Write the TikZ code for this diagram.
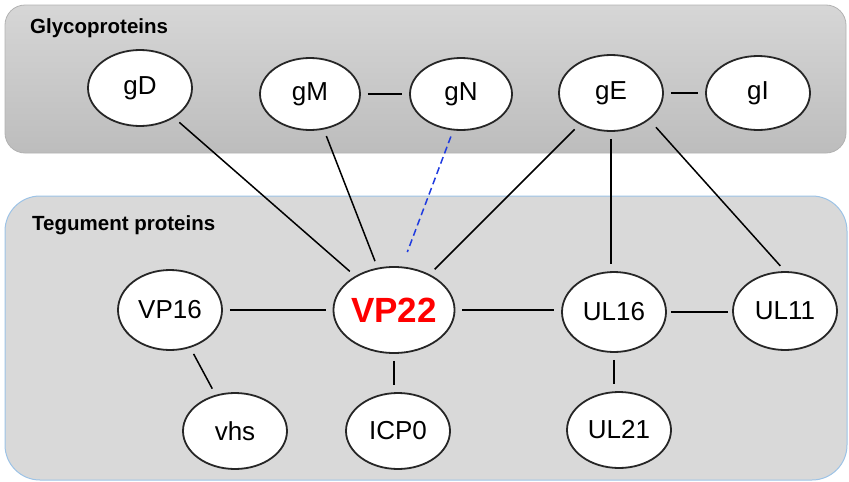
\documentclass[tikz,border=0pt]{standalone}
\usepackage{fontspec}
\setmainfont{Liberation Sans}
\usetikzlibrary{shapes.geometric}
\definecolor{panelgray}{HTML}{D9D9D9}
\definecolor{panelblue}{HTML}{9DC3E6}
\definecolor{linkblue}{HTML}{1F3BE0}
\tikzset{
  prot/.style={ellipse, draw=black!85, line width=1.8pt, fill=white,
    inner sep=0pt, minimum width=104pt, minimum height=76pt,
    font=\fontsize{26}{28}\selectfont},
  hub/.style={prot, minimum width=116pt, minimum height=86pt,
    text=red, font=\fontsize{35}{38}\selectfont\bfseries},
  link/.style={line width=1.5pt, black, shorten <=7pt, shorten >=7pt},
  weaklink/.style={link, linkblue, dashed, dash pattern=on 7pt off 4pt},
  grouptitle/.style={anchor=base west, inner sep=0pt,
    font=\fontsize{20.5}{22}\selectfont\bfseries}
}
\begin{document}
\begin{tikzpicture}[x=1pt, y=-1pt]
\useasboundingbox (0,0) rectangle (849,482);

% glycoprotein panel
\shade[top color=black!16, bottom color=black!26, rounded corners=20pt,
  draw=black!30, line width=0.8pt] (5,5) rectangle (846,153);
\node[grouptitle] (glyco) at (30,33) {Glycoproteins};

% tegument panel
\draw[fill=panelgray, draw=panelblue, line width=1pt, rounded corners=35pt]
  (5,196) rectangle (847,480);
\node[grouptitle] (tegu) at (32,230) {Tegument proteins};

% glycoproteins
\node[prot] (gD) at (140,88) {gD};
\node[prot, minimum width=100pt, minimum height=72pt] (gM) at (310,94) {gM};
\node[prot, minimum width=102pt, minimum height=72pt] (gN) at (461,94) {gN};
\node[prot] (gE) at (611,93) {gE};
\node[prot, minimum height=74pt] (gI) at (758,93) {gI};

% tegument proteins
\node[prot, minimum height=80pt] (VP16) at (170,310) {VP16};
\node[hub] (VP22) at (394,310) {VP22};
\node[prot, minimum height=80pt] (UL16) at (614,312) {UL16};
\node[prot, minimum height=78pt] (UL11) at (785,311) {UL11};
\node[prot] (vhs) at (235,431) {vhs};
\node[prot] (ICP0) at (398,431) {ICP0};
\node[prot] (UL21) at (619,430) {UL21};

% interactions
\draw[link] (gM) -- (gN);
\draw[link] (gE) -- (gI);
\draw[link] (gD) -- (VP22);
\draw[link] (gM) -- (VP22);
\draw[weaklink, shorten <=6pt, shorten >=15pt]
  ([xshift=-8pt]gN.south) -- ([xshift=8pt]VP22.north);
\draw[link] (gE) -- (VP22);
\draw[link] (gE.south) -- (gE.south |- UL16.north);
\draw[link, shorten <=10pt] (gE.-35) -- (UL11.north);
\draw[link] (VP16.east) -- (VP16.east -| VP22.west);
\draw[link] (VP22.east) -- (VP22.east -| UL16.west);
\draw[link, shorten <=4pt, shorten >=4pt] (UL16.east) -- (UL16.east -| UL11.west);
\draw[link] (VP16) -- (vhs);
\draw[link] (VP22.south) -- (VP22.south |- ICP0.north);
\draw[link] (UL16.south) -- (UL16.south |- UL21.north);
\end{tikzpicture}
\end{document}
